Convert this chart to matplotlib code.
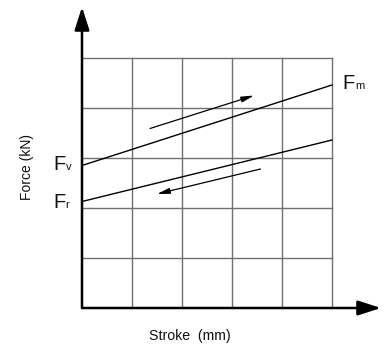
import matplotlib.pyplot as plt

plt.rcParams['font.family'] = ['Liberation Sans', 'DejaVu Sans']

# grid in stroke / force units
grid_x = [0, 1, 2, 3, 4, 5]
grid_y = [0, 1, 2, 3, 4, 5]

# extend stroke (upper line) and retract stroke (lower line)
stroke = [0, 5]
force_extend = [2.85, 4.46]
force_retract = [2.13, 3.36]

# direction arrows: (start, end)
arrow_up = [(1.36, 3.59), (3.44, 4.25)]
arrow_down = [(3.57, 2.78), (1.50, 2.28)]

# F labels: (main, subscript, x, baseline y)
labels = [('F', 'v', -0.58, 2.75), ('F', 'r', -0.58, 2.0), ('F', 'm', 5.21, 4.38)]

fig = plt.figure(figsize=(3.85, 3.44), dpi=100)
ax = fig.add_axes([82 / 385, 36 / 344, 250 / 385, 250 / 344])
ax.set_xlim(0, 5)
ax.set_ylim(0, 5)
ax.axis('off')

for gx in grid_x[1:]:
    ax.plot([gx, gx], [0, 5], color='#707070', lw=1.0, clip_on=False)
for gy in grid_y[1:]:
    ax.plot([0, 5], [gy, gy], color='#707070', lw=1.0, clip_on=False)

# axes with arrow heads
head = '-|>,head_length=1.4,head_width=0.45'
ax.annotate('', xy=(5.98, 0), xytext=(0, 0),
            arrowprops=dict(arrowstyle=head, color='black', lw=1.8,
                            shrinkA=0, shrinkB=0),
            annotation_clip=False)
ax.annotate('', xy=(0, 6.02), xytext=(0, 0),
            arrowprops=dict(arrowstyle=head, color='black', lw=1.8,
                            shrinkA=0, shrinkB=0),
            annotation_clip=False)

ax.plot(stroke, force_extend, color='black', lw=1.0, clip_on=False)
ax.plot(stroke, force_retract, color='black', lw=1.0, clip_on=False)

for (x0, y0), (x1, y1) in (arrow_up, arrow_down):
    ax.annotate('', xy=(x1, y1), xytext=(x0, y0),
                arrowprops=dict(arrowstyle='-|>,head_length=0.75,head_width=0.17',
                                color='black', lw=0.9, shrinkA=0, shrinkB=0),
                annotation_clip=False)

for main, sub, lx, ly in labels:
    ax.text(lx, ly, main, fontsize=14.5, ha='left', va='baseline', color='#111111')
    ax.text(lx + 0.25, ly, sub, fontsize=8, ha='left', va='baseline', color='#111111')

fig.text(27 / 385, 1 - 167 / 344, 'Force (kN)', rotation=90, fontsize=10,
         ha='center', va='center', color='#111111')
fig.text(190 / 385, 1 - 336 / 344, 'Stroke  (mm)', fontsize=10.2,
         ha='center', va='center', color='#111111')

fig.savefig('out.png', dpi=100)
